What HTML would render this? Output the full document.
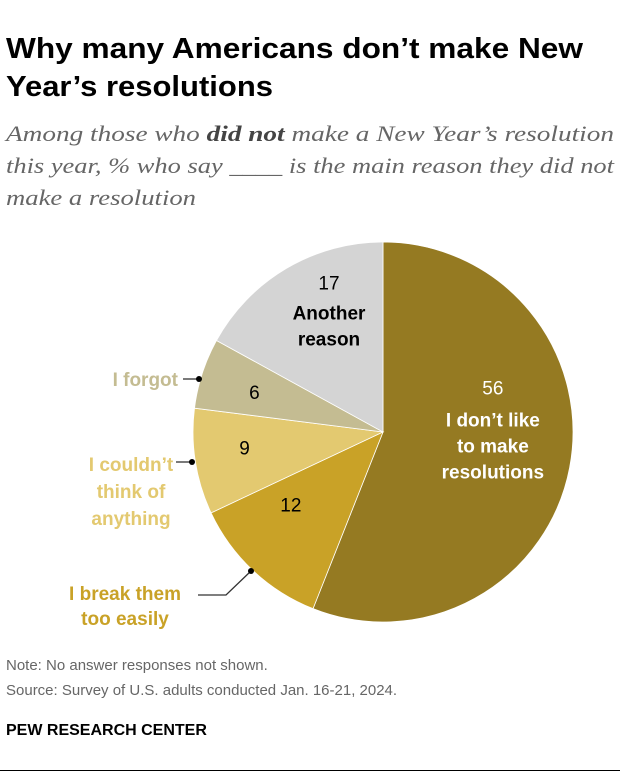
<!DOCTYPE html>
<html><head><meta charset="utf-8"><style>
body{margin:0;width:620px;height:780px;background:#fff;font-family:"Liberation Sans",sans-serif;position:relative;overflow:hidden}
.n{position:absolute;left:6px;font-size:15px;color:#666}
.p{position:absolute;left:6px;top:722px;font-size:16px;font-weight:bold;color:#000}
.rule{position:absolute;left:0;top:770px;width:620px;height:1px;background:#000}
</style></head><body>
<svg width="620" height="215" style="position:absolute;left:0;top:0">
<g font-family="Liberation Sans, sans-serif" font-weight="bold" font-size="29" fill="#000">
<text x="6" y="58" textLength="577" lengthAdjust="spacingAndGlyphs">Why many Americans don’t make New</text>
<text x="6" y="96" textLength="267" lengthAdjust="spacingAndGlyphs">Year’s resolutions</text>
</g>
<g font-family="Liberation Serif, serif" font-style="italic" font-size="22" fill="#666">
<text x="6" y="141" textLength="608" lengthAdjust="spacingAndGlyphs">Among those who <tspan font-weight="bold" fill="#444">did not</tspan> make a New Year’s resolution</text>
<text x="6" y="173" textLength="608" lengthAdjust="spacingAndGlyphs">this year, % who say ____ is the main reason they did not</text>
<text x="6" y="205" textLength="190" lengthAdjust="spacingAndGlyphs">make a resolution</text>
</g>
</svg>
<svg id="pie" width="620" height="780" style="position:absolute;left:0;top:0"></svg>
<div class="n" style="top:657px">Note: No answer responses not shown.</div>
<div class="n" style="top:682px">Source: Survey of U.S. adults conducted Jan. 16-21, 2024.</div>
<div class="p">PEW RESEARCH CENTER</div>
<div class="rule"></div>
<script>
const categories=["I don’t like to make resolutions","I break them too easily","I couldn’t think of anything","I forgot","Another reason"];
const values=[56,12,9,6,17];
const colors=["#957a22","#c9a227","#e3c970","#c4bc92","#d4d4d4"];
const NS="http://www.w3.org/2000/svg";
const svg=document.getElementById("pie");
const cx=383,cy=432,r=190;
const total=values.reduce((a,b)=>a+b,0);
function pt(f,rr){const a=f*2*Math.PI;return [cx+rr*Math.sin(a),cy-rr*Math.cos(a)];}
function txt(x,y,s,opt){const t=document.createElementNS(NS,"text");t.setAttribute("x",x);t.setAttribute("y",y);t.setAttribute("text-anchor",opt.anchor||"middle");t.setAttribute("font-size",opt.size||19);t.setAttribute("fill",opt.fill||"#000");if(opt.bold)t.setAttribute("font-weight","bold");t.setAttribute("font-family","Liberation Sans, sans-serif");t.textContent=s;


svg.appendChild(t);}
let acc=0;
const slices=[];
values.forEach((v,i)=>{const f0=acc/total,f1=(acc+v)/total;acc+=v;
const [x0,y0]=pt(f0,r),[x1,y1]=pt(f1,r);
const p=document.createElementNS(NS,"path");
p.setAttribute("d",`M${cx},${cy}L${x0},${y0}A${r},${r} 0 ${f1-f0>0.5?1:0} 1 ${x1},${y1}Z`);
p.setAttribute("fill",colors[i]);p.setAttribute("stroke","#fff");p.setAttribute("stroke-width","0.8");


svg.appendChild(p);slices.push((f0+f1)/2);});
let c=pt(slices[0],120);txt(c[0]-8,c[1]-60,values[0],{fill:"#fff",name:"value-0"});
txt(c[0]-8,c[1]-28,"I don’t like",{fill:"#fff",bold:1,name:"label-0a"});
txt(c[0]-8,c[1]-2,"to make",{fill:"#fff",bold:1,name:"label-0b"});
txt(c[0]-8,c[1]+24,"resolutions",{fill:"#fff",bold:1,name:"label-0c"});
c=pt(slices[1],120);txt(c[0]-10,c[1]-8,values[1],{name:"value-1"});
c=pt(slices[2],130);txt(c[0]-10,c[1]+2,values[2],{name:"value-2"});
c=pt(slices[3],130);txt(c[0]-5,c[1]+7,values[3],{name:"value-3"});
c=pt(slices[4],110);txt(c[0]+2,c[1]-48,values[4],{name:"value-4"});
txt(c[0]+2,c[1]-18,"Another",{bold:1,name:"label-4a"});
txt(c[0]+2,c[1]+8,"reason",{bold:1,name:"label-4b"});
txt(178,386,"I forgot",{anchor:"end",bold:1,fill:"#c4bc92",name:"label-3"});
txt(131,471,"I couldn’t",{bold:1,fill:"#e3c970",name:"label-2a"});
txt(131,498,"think of",{bold:1,fill:"#e3c970",name:"label-2b"});
txt(131,525,"anything",{bold:1,fill:"#e3c970",name:"label-2c"});
txt(125,600,"I break them",{bold:1,fill:"#c9a227",name:"label-1a"});
txt(125,625,"too easily",{bold:1,fill:"#c9a227",name:"label-1b"});
function line(d,name){const p=document.createElementNS(NS,"path");p.setAttribute("d",d);p.setAttribute("stroke","#333");p.setAttribute("fill","none");p.setAttribute("stroke-width","1.3");


svg.appendChild(p);}
function dot(x,y,name){const e=document.createElementNS(NS,"circle");e.setAttribute("cx",x);e.setAttribute("cy",y);e.setAttribute("r",3);e.setAttribute("fill","#000");


svg.appendChild(e);}
line("M183,379H199","leader-3");dot(199,379,"dot-3");
line("M176,462H192","leader-2");dot(192,462,"dot-2");
line("M198,595H226L251,571","leader-1");dot(251,571,"dot-1");
</script>
</body></html>
